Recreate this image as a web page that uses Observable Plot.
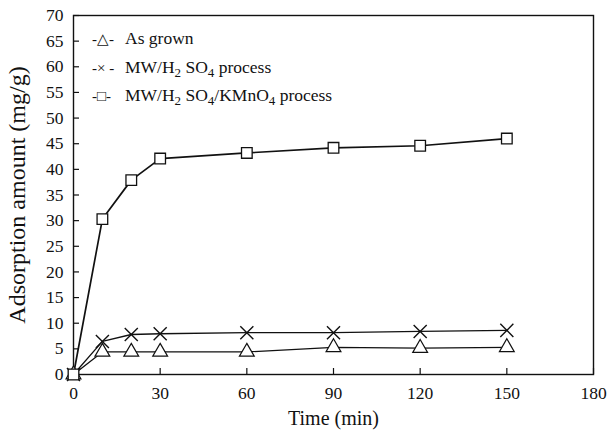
<!DOCTYPE html>
<html>
<head>
<meta charset="utf-8">
<script src="https://cdn.jsdelivr.net/npm/d3@7"></script>
<script src="https://cdn.jsdelivr.net/npm/@observablehq/plot@0.6"></script>
<style>
  html, body { margin: 0; padding: 0; background: #fff; }
  svg { font-family: "Liberation Serif", "Times New Roman", serif; }
</style>
</head>
<body>
<div id="chart"></div>
<script>
const time = [0, 10, 20, 30, 60, 90, 120, 150];
const asGrown = [0, 4.4, 4.4, 4.4, 4.4, 5.3, 5.15, 5.3];
const mwH2SO4 = [0, 6.45, 7.8, 7.95, 8.15, 8.15, 8.4, 8.6];
const mwH2SO4KMnO4 = [0, 30.3, 37.9, 42.1, 43.2, 44.2, 44.6, 46.0];
const xTicks = [0, 30, 60, 90, 120, 150, 180];
const yTicks = [0, 5, 10, 15, 20, 25, 30, 35, 40, 45, 50, 55, 60, 65, 70];

const rows = (ys) => time.map((t, i) => ({t, v: ys[i]}));
const dA = rows(asGrown), dB = rows(mwH2SO4), dC = rows(mwH2SO4KMnO4);

const W = 607, H = 439, mL = 73, mR = 14, mT = 15, mB = 65;
const innerW = W - mL - mR, innerH = H - mT - mB;

const chart = Plot.plot({
  width: W, height: H,
  marginLeft: mL, marginRight: mR, marginTop: mT, marginBottom: mB,
  style: {fontFamily: "Liberation Serif, serif", fontSize: "17.5px", color: "#111"},
  x: {domain: [0, 180], ticks: xTicks, tickSize: 0, tickPadding: 12, label: null},
  y: {domain: [0, 70], ticks: yTicks, tickSize: 0, tickPadding: 10, label: null},
  marks: [
    Plot.tickY(yTicks, {y: d => d, insetRight: innerW - 6, stroke: "#111", strokeWidth: 1.2}),
    Plot.tickX(xTicks, {x: d => d, insetTop: innerH - 6, stroke: "#111", strokeWidth: 1.2}),
    Plot.frame({stroke: "#111", strokeWidth: 1.4}),
    Plot.line(dA, {x: "t", y: "v", stroke: "#111", strokeWidth: 1.3}),
    Plot.line(dB, {x: "t", y: "v", stroke: "#111", strokeWidth: 1.3}),
    Plot.line(dC, {x: "t", y: "v", stroke: "#111", strokeWidth: 1.7}),
    Plot.dot(dA, {x: "t", y: "v", symbol: "triangle", r: 5.5, fill: "white", stroke: "#111", strokeWidth: 1.2}),
    Plot.dot(dB, {x: "t", y: "v", symbol: "times", r: 6, stroke: "#111", strokeWidth: 1.4}),
    Plot.dot(dC, {x: "t", y: "v", symbol: "square", r: 6, fill: "white", stroke: "#111", strokeWidth: 1.3}),
    Plot.text(["Time (min)"], {frameAnchor: "bottom", dy: 50, fontSize: 20, fill: "#111"}),
    Plot.text(["Adsorption amount (mg/g)"], {frameAnchor: "left", dx: -56, rotate: -90, textAnchor: "middle", fontSize: 24, fill: "#111"})
  ]
});
document.getElementById("chart").appendChild(chart);

// Legend with subscripts
const svg = d3.select(chart);
const legend = [
  {sym: "-\u25B3-", parts: [["As grown", false]]},
  {sym: "-\u00D7 -", parts: [["MW/H", false], ["2", true], [" SO", false], ["4", true], [" process", false]]},
  {sym: "-\u25A1-", parts: [["MW/H", false], ["2", true], [" SO", false], ["4", true], ["/KMnO", false], ["4", true], [" process", false]]}
];
const lg = svg.append("g").attr("font-size", 17.5).attr("fill", "#111").attr("text-anchor", "start");
legend.forEach((row, i) => {
  const y = 44 + i * 28.5;
  lg.append("text").attr("x", 92).attr("y", y).attr("font-size", 15).attr("text-anchor", "start").text(row.sym);
  const t = lg.append("text").attr("x", 125).attr("y", y).attr("text-anchor", "start");
  row.parts.forEach(([s, sub], j) => {
    const prevSub = j > 0 && row.parts[j - 1][1];
    const ts = t.append("tspan").text(s);
    if (sub) ts.attr("font-size", 13).attr("dy", prevSub ? 0 : 4);
    else if (prevSub) ts.attr("dy", -4);
  });
});
</script>
</body>
</html>
